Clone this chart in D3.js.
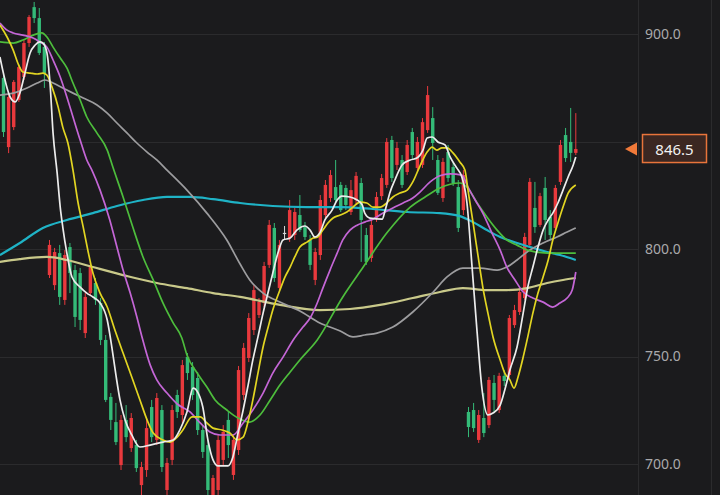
<!DOCTYPE html>
<html><head><meta charset="utf-8">
<script src="https://cdn.jsdelivr.net/npm/d3@7"></script>
<style>html,body{margin:0;padding:0;background:#1b1b1d;}svg{display:block;}</style>
</head><body><svg id="c" width="720" height="495"></svg>
<script>
// ---- candle data (index 0..112) ----
const opens  = [879.5,847.4,856.7,869.3,880.0,895.8,912.5,907.4,894.0,787.9,783.2,798.1,776.3,800.9,790.2,788.8,760.9,779.5,784.2,774.9,757.7,731.2,719.5,699.5,720.5,707.4,708.8,690.2,697.2,726.5,711.2,725.1,687.9,701.9,732.1,722.8,749.8,745.1,740.0,715.8,708.8,685.6,687.9,701.9,720.5,694.9,706.5,732.1,749.3,762.3,769.3,774.9,792.6,809.8,781.9,807.5,805.1,806.5,815.8,810.2,804.2,785.6,797.2,815.8,823.7,828.8,829.8,828.4,817.2,822.8,830.7,806.5,795.8,814.4,824.6,829.8,850.7,839.1,841.4,835.8,854.4,837.7,839.1,855.3,860.9,841.4,823.7,845.1,838.1,828.8,818.1,724.2,725.1,711.2,721.4,718.1,737.7,725.1,741.0,741.4,764.6,770.7,777.2,801.9,819.1,811.2,828.4,814.9,809.8,831.2,853.0,849.8,844.7];
const highs  = [882.3,873.0,878.6,885.6,897.2,908.8,914.9,912.1,896.3,804.2,800.5,801.9,799.5,802.8,792.6,791.2,779.5,794.0,786.5,777.2,760.0,733.0,728.4,722.8,727.4,723.7,711.2,701.0,721.4,729.8,733.0,727.4,702.8,727.4,734.5,748.4,751.6,747.4,742.8,718.1,711.2,694.9,713.5,718.1,724.2,713.5,745.6,756.3,770.2,783.2,777.2,794.0,813.5,812.1,804.2,810.7,822.8,819.1,825.1,812.6,806.5,800.5,825.1,832.1,836.7,841.4,831.2,829.8,832.1,835.8,833.0,809.8,813.5,826.5,834.9,851.6,852.6,849.8,843.7,850.7,856.3,852.1,860.9,875.8,866.0,843.7,842.3,848.4,840.5,832.1,836.7,726.5,728.4,725.1,733.0,740.5,741.4,742.4,743.7,769.3,774.0,781.9,807.5,833.0,831.2,826.1,833.5,818.1,829.8,850.7,856.3,865.6,863.2];
const lows   = [852.1,844.6,855.3,868.4,878.6,894.0,905.1,890.2,874.9,786.5,780.9,774.0,774.0,779.5,763.7,762.3,758.6,778.1,774.0,755.3,728.8,715.8,708.8,697.2,710.2,705.6,696.3,684.6,694.0,710.2,708.8,696.3,684.6,699.5,721.4,719.1,739.1,729.8,713.5,702.8,684.6,684.6,684.6,699.5,702.8,692.6,704.2,729.8,747.4,760.0,767.9,773.0,791.2,784.7,780.0,804.2,803.3,804.2,807.9,804.2,790.2,783.2,794.9,814.4,821.9,821.4,817.2,818.1,815.8,820.5,794.0,792.6,794.0,812.6,822.8,828.4,831.2,836.7,828.4,834.4,841.4,835.8,837.7,854.0,841.4,825.1,821.9,831.2,829.3,807.9,815.8,712.5,714.9,709.8,712.5,716.7,723.7,723.7,736.3,740.0,763.3,769.3,776.3,801.0,807.5,810.2,804.2,804.2,808.8,829.8,840.5,840.5,843.7];
const closes = [854.4,870.7,877.7,884.6,895.8,907.9,907.4,891.2,881.8,801.9,798.6,777.7,797.2,788.8,768.4,767.0,777.7,791.6,776.3,757.7,729.8,720.5,710.2,720.5,712.5,721.4,698.1,698.6,716.7,712.5,730.7,698.6,700.5,725.1,724.2,746.0,742.3,732.1,715.8,705.6,687.9,693.5,711.2,714.9,708.8,711.2,743.7,754.0,767.9,780.9,775.4,792.1,811.2,786.5,801.9,807.5,818.1,817.2,808.8,805.6,792.6,798.6,822.8,829.8,834.4,822.8,818.1,820.5,827.4,834.0,813.5,794.0,811.2,824.2,833.0,849.8,833.0,847.0,829.8,848.4,843.7,849.8,859.0,871.6,849.3,826.1,840.5,833.0,830.7,809.8,834.4,717.2,716.7,722.8,714.4,739.1,729.8,741.0,738.6,767.9,771.6,780.0,805.6,831.2,810.2,824.6,813.5,806.5,828.4,848.4,842.3,844.7,846.5];

// ---- moving averages, read as [candle index, value] ----
const ma5 = [[-0.7,889.3],[1.3,870.7],[2.3,868.4],[3.2,872.5],[4.2,881.8],[5.2,891.2],[6.2,894.9],[7.1,896.3],[7.7,895.8],[8.5,891.2],[9.1,877.2],[9.7,853.9],[10.5,835.3],[11.1,819.5],[11.6,810.2],[12.4,798.1],[13.4,787],[15,782.3],[16.3,779.5],[17.5,777.7],[18.9,774.9],[20.3,767],[21.2,754.4],[22,741.4],[22.8,729.8],[23.8,720.5],[25.1,713.5],[26.7,707.9],[28.7,708.8],[31.2,710.2],[33.2,711.2],[34.5,715.8],[35.9,724.2],[37.1,735.3],[38.1,733],[39,726.5],[40,711.2],[41,701.9],[42,699.1],[43.9,699.1],[44.9,703.3],[45.9,714.4],[46.9,725.1],[47.8,735.8],[48.8,748.4],[49.8,759.1],[50.8,770.2],[51.8,780],[52.7,788.8],[53.7,798.1],[54.7,804.2],[56.1,805.1],[57.4,808.8],[59,810.7],[60,808.8],[60.9,805.6],[61.9,807.5],[62.9,813.5],[64.3,818.1],[65.3,822.8],[66.2,824.6],[67.8,824.2],[69.2,822.8],[70.2,820.5],[70.7,816.7],[71.7,814.4],[74.1,813.9],[74.7,818.1],[75.6,826.1],[76.6,832.1],[78,839.1],[79.6,841.4],[80.9,842.3],[82.1,846.1],[82.9,851.6],[83.9,852.1],[85,849.8],[86.4,848.4],[87.4,842.8],[88.7,837.7],[89.7,833.5],[90.7,821.4],[91.7,791.6],[92.7,760.9],[93.6,735.8],[94.8,722.8],[95.8,723.7],[97.2,727.4],[98.1,734.4],[99.1,743.7],[100.5,754.4],[101.7,770.2],[102.6,782.3],[103.6,791.6],[104.6,800.9],[105.6,808.8],[106.6,813.5],[107.5,816.7],[108.5,821.4],[109.5,827.4],[110.5,833.5],[111.5,839.1],[112,842.8]];
const ma10 = [[-0.7,904.2],[0.7,898.6],[1.9,892.5],[2.8,886.5],[3.8,882.3],[5.2,881.8],[6.6,881.4],[7.7,881.8],[8.5,880.9],[9.5,875.3],[10.7,866],[11.6,856.7],[12.6,849.3],[13.6,836.7],[14.6,821.4],[15.6,810.2],[16.5,799.5],[17.5,788.8],[18.9,779.5],[20.3,773],[21.8,762.3],[23.4,751.6],[25.1,740.5],[26.7,729.8],[28.1,720.5],[29.3,714.4],[31.2,711.2],[32.6,710.2],[34,712.5],[35.1,715.8],[36.9,721.9],[38.5,721.9],[39.8,719.1],[41,716.7],[42.8,715.8],[44.3,714.4],[45.7,711.2],[46.9,712.5],[47.8,719.1],[48.8,729.8],[49.8,742.3],[50.8,754.4],[51.8,763.7],[52.7,771.6],[54.1,780.9],[55.1,787],[56.1,791.6],[57,796.3],[58,800.9],[59.4,803.2],[60.6,805.1],[61.5,805.6],[62.5,808.8],[63.5,812.1],[64.5,814.4],[65.9,815.8],[67.2,817.2],[68.4,819.5],[69.8,821.8],[71.1,821.4],[72.3,819.5],[73.7,819.5],[75,821.4],[76.2,824.2],[77.6,826],[79,827.4],[80.1,831.2],[81.5,838.6],[82.9,845.1],[83.9,847.4],[84.8,846],[85.8,847],[86.8,847],[88,844.6],[89.3,840.5],[90.3,836.7],[90.9,827.4],[91.9,812.1],[92.9,796.3],[93.8,782.3],[94.8,770.2],[95.8,759.1],[97.2,748.4],[98.1,742.3],[99.1,739.1],[99.9,735.3],[100.7,740.5],[101.7,749.7],[102.6,759.1],[103.6,770.2],[104.6,779.5],[105.6,787],[106.6,794.9],[107.5,804.2],[108.5,812.1],[109.5,819.5],[110.5,826],[112,829.8]];
const ma20 = [[-0.7,905.1],[0.7,901.8],[1.9,900.5],[3.8,899.5],[5.8,898.1],[7.1,896.3],[8.5,893.9],[9.7,887.9],[11.1,880],[12.4,870.7],[13.6,861.4],[15,850.7],[16.3,841.4],[17.3,836.7],[18.9,827.4],[20.8,813.5],[22.2,800.9],[23.4,790.2],[24.8,779.5],[26.1,768.4],[27.1,759.1],[28.7,746.1],[30,739.1],[32,733],[34,727.9],[36.5,724.2],[38.5,719.1],[40.4,714.9],[42.4,713.5],[44.9,713.5],[46.9,719.1],[48.8,725.1],[50.8,733],[52.7,742.3],[54.7,749.7],[56.7,757.7],[58.6,763.7],[60,767.9],[61.4,774.9],[62.5,781.8],[63.9,790.2],[65.3,798.1],[66.4,804.2],[67.8,808.8],[69.2,811.1],[70.7,812.5],[72.3,813.9],[74.3,816.7],[76.2,819.1],[78.2,821.4],[80.1,823.7],[81.5,826.5],[83.5,831.2],[85.4,834.1],[87.4,834.9],[89.7,834.4],[90.9,828.8],[92.3,822.8],[93.8,816.7],[95.6,807.4],[97.2,799.5],[98.5,791.6],[100.1,785.6],[101.7,780],[103.6,777.2],[105.6,775.3],[107.5,773],[108.9,774.9],[110.3,777.2],[111.3,780.9],[112,789.3]];
const ma30 = [[-0.7,896.3],[1.9,895.8],[3.8,897.2],[5.8,899.5],[7.5,900.5],[8.5,898.6],[9.7,893.9],[11.1,888.8],[12.4,884.2],[13.6,877.2],[15,869.3],[16.3,861.4],[18.3,853.9],[20.3,846],[21.4,838.1],[23.4,824.2],[25.3,810.2],[27.3,796.3],[29.3,785.6],[31.2,774.9],[33.2,765.6],[34.9,758.6],[35.9,750.7],[37.9,742.3],[39.8,735.8],[41.4,729.8],[43.7,725.1],[45.9,721.4],[48.2,719.5],[50.2,722.8],[52.2,729.8],[54.1,736.7],[56.1,742.8],[58,748.4],[61.4,757.7],[66.4,777.7],[70.4,791.6],[75,807.4],[79.6,819.5],[82.5,824.2],[85.4,828.4],[89.3,830.7],[90.7,828.8],[92.7,821.4],[94.6,814.9],[96.6,808.8],[98.5,804.2],[100.5,801.8],[102.5,799.5],[106.4,798.1],[112,798.1]];
const ma60 = [[-0.7,871.6],[1.9,872.5],[4.6,874.9],[6.6,877.2],[8.1,878.6],[9.7,877.2],[11.6,874.9],[13.6,872.5],[15.6,870.2],[18.3,867],[20.3,863.2],[22.2,858.6],[24.2,853.9],[26.1,849.3],[28.1,845.1],[30,841.4],[32,836.7],[35.9,827.4],[39.8,816.7],[43.7,804.2],[46.3,793],[48.2,785.6],[50.8,779.5],[54.1,775.3],[58,771.2],[61.9,765.6],[65.9,761.9],[68.4,759.1],[70.7,760],[73.1,760.9],[76.2,763.7],[80.1,770.7],[84.1,780],[86.8,787],[89.9,791.1],[93.3,791.1],[96.6,790.2],[98.5,791.6],[100.5,794.9],[103,799.5],[105.6,802.8],[108.3,805.6],[110.3,807.9],[112,809.8]];
const ma120 = [[-0.7,797.2],[3.2,802.8],[7.7,809.8],[12.4,813.5],[17.5,816.7],[22.2,820],[27.3,822.8],[32,824.2],[36.5,824.2],[41,823.2],[46.3,821.4],[52.7,820],[59.4,819.5],[65.9,819.5],[72.3,818.6],[79,817.2],[85.4,816.7],[89.3,815.3],[91.9,812.5],[94.6,808.8],[97.2,805.6],[100.5,802.8],[103.6,800.5],[106.4,798.6],[108.9,797.2],[112,794.9]];
const ma250 = [[-0.7,794],[3.2,795.3],[8.5,796.3],[12.4,794.9],[17.5,791.6],[24.2,787.4],[30,784.2],[35.9,781.8],[41,779.5],[46.3,777.7],[54.1,774],[61.9,771.6],[67.8,772.1],[73.7,774],[80.1,777.2],[85.4,780],[89.9,781.8],[94.6,780.9],[98.5,780.9],[102.5,781.8],[106.4,784.2],[109.5,785.6],[112,786.5]];

// ---- axis: gridlines and visible labels (850.0 sits under the price tag) ----
const gridValues = [900, 850, 800, 750, 700];
const labelValues = [900, 800, 750, 700];

// ---- drawing ----
const W = 720, H = 495, plotR = 638;
const svg = d3.select("#c");
const x = d3.scaleLinear().domain([0, closes.length - 1]).range([3.5, 575.8]);
const y = d3.scaleLinear().domain([700, 900]).range([464, 34]);

svg.append("rect").attr("width", W).attr("height", H).attr("fill", "#1b1b1d");

// grid
svg.append("g").selectAll("line").data(gridValues).join("line")
  .attr("x1", 0).attr("x2", plotR)
  .attr("y1", d => Math.round(y(d)) + 0.5).attr("y2", d => Math.round(y(d)) + 0.5)
  .attr("stroke", "#2b2b2d").attr("stroke-width", 1);

// separators
[plotR + 0.5, 711.5].forEach(px => svg.append("line")
  .attr("x1", px).attr("x2", px).attr("y1", 0).attr("y2", H)
  .attr("stroke", "#2b2b2d").attr("stroke-width", 1));

// y axis labels
const axis = d3.axisRight(y).tickValues(labelValues).tickSize(0).tickPadding(0)
  .tickFormat(d3.format(".1f"));
const ag = svg.append("g").attr("transform", `translate(645,0)`).call(axis);
ag.select(".domain").remove();
ag.selectAll("text").attr("fill", "#a9a9ab").attr("font-size", 14)
  .attr("font-family", "'Noto Sans', 'DejaVu Sans', sans-serif");

// clip
svg.append("defs").append("clipPath").attr("id", "clip")
  .append("rect").attr("x", 0).attr("y", 0).attr("width", plotR).attr("height", H);
const g = svg.append("g").attr("clip-path", "url(#clip)");

const UP = "#e9393d", DOWN = "#34bb78", FLAT = "#d8d8d8";
const idx = d3.range(closes.length);
const col = i => closes[i] > opens[i] ? UP : (closes[i] < opens[i] ? DOWN : FLAT);

g.append("g").selectAll("line").data(idx).join("line")
  .attr("x1", i => x(i)).attr("x2", i => x(i))
  .attr("y1", i => y(highs[i])).attr("y2", i => y(lows[i]))
  .attr("stroke", col).attr("stroke-width", 1);

const bw = 3.4;
g.append("g").selectAll("rect").data(idx).join("rect")
  .attr("x", i => x(i) - bw / 2).attr("width", bw)
  .attr("y", i => y(Math.max(opens[i], closes[i])))
  .attr("height", i => Math.max(1.2, Math.abs(y(opens[i]) - y(closes[i]))))
  .attr("fill", col);

// moving averages
const line = d3.line().x(d => x(d[0])).y(d => y(d[1])).curve(d3.curveMonotoneX);
const mas = [
  {d: ma250, c: "#c9c98a", w: 2.2},
  {d: ma120, c: "#1fb3c6", w: 2.2},
  {d: ma60,  c: "#9d9d9f", w: 1.7},
  {d: ma30,  c: "#4dbd3c", w: 1.7},
  {d: ma20,  c: "#c466d6", w: 1.7},
  {d: ma10,  c: "#e2d522", w: 1.7},
  {d: ma5,   c: "#ececec", w: 1.7}
];
g.append("g").selectAll("path").data(mas).join("path")
  .attr("d", m => line(m.d)).attr("fill", "none")
  .attr("stroke", m => m.c).attr("stroke-width", m => m.w)
  .attr("stroke-linejoin", "round");

// last price tag
const last = closes[closes.length - 1];
const ly = y(last);
svg.append("path")
  .attr("d", `M625,${ly} L637,${ly - 6.5} L637,${ly + 6.5} Z`)
  .attr("fill", "#f07a3a");
svg.append("rect").attr("x", 642.5).attr("y", ly - 14.5).attr("width", 64).attr("height", 28)
  .attr("fill", "#3b2722").attr("stroke", "#e8743b").attr("stroke-width", 1.5);
svg.append("text").attr("x", 674.5).attr("y", ly + 5.5).attr("text-anchor", "middle")
  .attr("fill", "#f2f2f2").attr("font-size", 15)
  .attr("font-family", "'Noto Sans', 'DejaVu Sans', sans-serif")
  .text(d3.format(".1f")(last));
</script></body></html>
